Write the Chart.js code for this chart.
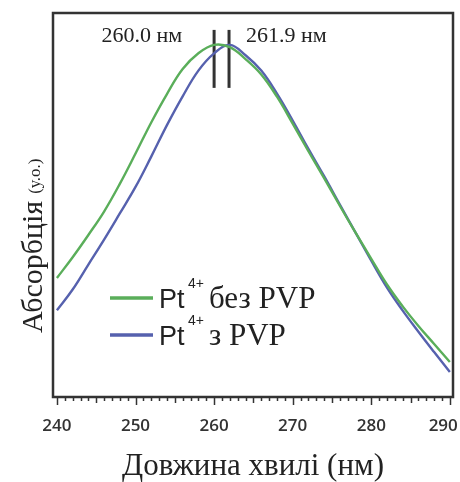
<!DOCTYPE html>
<html>
<head>
<meta charset="utf-8">
<script src="https://cdn.jsdelivr.net/npm/chart.js@4"></script>
<style>
html,body{margin:0;padding:0;background:#fff;}
#wrap{width:460px;height:482px;position:relative;}
</style>
</head>
<body>
<div id="wrap"><canvas id="c" width="460" height="482"></canvas></div>
<script>
const wavelengths = [240,242,244,246,248,250,252,254,256,258,260,262,264,266,268,270,272,274,276,278,280,282,284,286,288,290];
const absNoPVP = [0.310,0.364,0.422,0.483,0.555,0.634,0.715,0.789,0.854,0.895,0.917,0.911,0.880,0.840,0.782,0.712,0.640,0.570,0.498,0.428,0.360,0.293,0.236,0.185,0.138,0.091];
const absPVP   = [0.226,0.280,0.345,0.410,0.478,0.547,0.626,0.708,0.783,0.850,0.895,0.917,0.890,0.850,0.790,0.720,0.646,0.575,0.501,0.428,0.355,0.285,0.225,0.170,0.117,0.065];
const peakWavelengths = [260.0, 261.9];
const peakLabels = ['260.0 нм', '261.9 нм'];
const markerSpan = [0.805, 0.956];
const seriesNames = ['без PVP', 'з PVP'];
const xTickValues = [240,250,260,270,280,290];

const GREEN = '#5aae5a';
const BLUE = '#5661ae';
const DARK = '#333333';

function pts(xs, ys){ return xs.map((x,i)=>({x:x,y:ys[i]})); }

const datasets = [
  {data: pts(wavelengths, absNoPVP), borderColor: GREEN, borderWidth: 2.4, pointRadius: 0, tension: 0.4, fill:false},
  {data: pts(wavelengths, absPVP), borderColor: BLUE, borderWidth: 2.4, pointRadius: 0, tension: 0.4, fill:false}
];
peakWavelengths.forEach(w=>{
  datasets.push({data:[{x:w,y:markerSpan[0]},{x:w,y:markerSpan[1]}], borderColor: DARK, borderWidth: 3, pointRadius:0, tension:0, fill:false});
});

const decor = {
  id:'decor',
  afterDraw(chart){
    const ctx = chart.ctx, a = chart.chartArea;
    const xs = chart.scales.x, ys = chart.scales.y;
    ctx.save();
    // frame
    ctx.strokeStyle = DARK; ctx.lineWidth = 2.5;
    ctx.strokeRect(a.left, a.top, a.right-a.left, a.bottom-a.top);
    // ticks
    ctx.lineWidth = 1.5;
    for(let v=240; v<=290; v++){
      const px = Math.round(xs.getPixelForValue(v))+0.5;
      const len = (v%10===0)?8:((v%5===0)?6:4);
      ctx.beginPath(); ctx.moveTo(px, a.bottom); ctx.lineTo(px, a.bottom+len); ctx.stroke();
    }
    // peak labels
    ctx.fillStyle = '#222';
    ctx.font = '22px "Liberation Serif", "Times New Roman", serif';
    ctx.textBaseline = 'alphabetic';
    const ly = ys.getPixelForValue(0.943)+7;
    ctx.textAlign = 'right';
    ctx.fillText(peakLabels[0], xs.getPixelForValue(peakWavelengths[0])-32, ly);
    ctx.textAlign = 'left';
    ctx.fillText(peakLabels[1], xs.getPixelForValue(peakWavelengths[1])+17, ly);
    // legend
    const rows = [{c:GREEN, y:298, name:seriesNames[0]}, {c:BLUE, y:335, name:seriesNames[1]}];
    rows.forEach(r=>{
      ctx.strokeStyle = r.c; ctx.lineWidth = 3.5;
      ctx.beginPath(); ctx.moveTo(110, r.y); ctx.lineTo(153, r.y); ctx.stroke();
      ctx.fillStyle = '#222';
      ctx.textAlign = 'left';
      ctx.font = '27px "Liberation Sans", Arial, sans-serif';
      ctx.fillText('Pt', 159, r.y+10);
      ctx.font = '14px "Liberation Sans", Arial, sans-serif';
      ctx.fillText('4+', 188, r.y-10);
      ctx.font = '31px "Liberation Serif", "Times New Roman", serif';
      ctx.fillText(r.name, 209, r.y+10);
    });
    // y title
    ctx.save();
    ctx.translate(42, 333);
    ctx.rotate(-Math.PI/2);
    ctx.textAlign = 'left';
    ctx.fillStyle = '#222';
    ctx.font = '30px "Liberation Serif", "Times New Roman", serif';
    ctx.fillText('Абсорбція', 0, 0);
    const w = ctx.measureText('Абсорбція').width;
    ctx.font = '17px "Liberation Serif", "Times New Roman", serif';
    ctx.fillText('(у.о.)', w+7, -2);
    ctx.restore();
    ctx.restore();
  }
};

new Chart(document.getElementById('c'), {
  type:'line',
  data:{datasets:datasets},
  options:{
    responsive:false,
    animation:false,
    events:[],
    layout:{padding:{left:53, right:7, top:13, bottom:0}},
    plugins:{legend:{display:false}, tooltip:{enabled:false}},
    scales:{
      x:{
        type:'linear', min:239.5, max:290.4,
        afterBuildTicks(scale){ scale.ticks = xTickValues.map(v=>({value:v})); },
        afterFit(scale){ scale.height = 85; scale.paddingLeft = 0; scale.paddingRight = 0; },
        grid:{display:false, drawTicks:false},
        border:{display:false},
        ticks:{color:DARK, padding:19, maxRotation:0, autoSkip:false,
          callback:(v)=> v===290 ? '290   ' : String(v),
          font:{family:'"Open Sans", sans-serif', size:17, weight:'600'}},
        title:{display:true, text:'Довжина хвилі (нм)', color:'#222', padding:{top:17, bottom:0}, font:{family:'"Liberation Serif", "Times New Roman", serif', size:31, lineHeight:1.0}}
      },
      y:{ display:false, min:0, max:1 }
    }
  },
  plugins:[decor]
});
</script>
</body>
</html>
